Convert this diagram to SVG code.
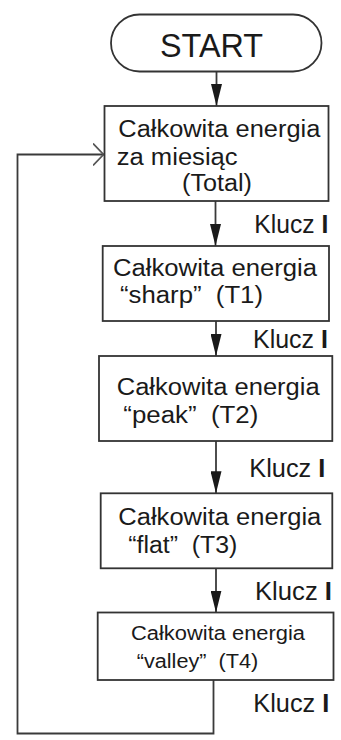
<svg xmlns="http://www.w3.org/2000/svg" width="341" height="740" viewBox="0 0 341 740">
<style>
.box{fill:#fff;stroke:#333;stroke-width:1.8}
.t{font-family:"Liberation Sans",Arial,sans-serif;font-size:23px;fill:#1a1a1a}
.ts{font-family:"Liberation Sans",Arial,sans-serif;font-size:20px;fill:#1a1a1a}
.k{font-family:"Liberation Sans",Arial,sans-serif;font-size:25px;fill:#1a1a1a}
.b{font-weight:bold}
.c{fill:none;stroke:#3a3a3a;stroke-width:1.8}
</style>
<defs>
<marker id="ah" markerUnits="userSpaceOnUse" viewBox="0 0 22 11" refX="22" refY="5.5" markerWidth="22" markerHeight="11" orient="auto">
<path d="M0,0 L22,5.5 L0,11 Z" fill="#1a1a1a"/>
</marker>
<marker id="oh" markerUnits="userSpaceOnUse" viewBox="0 0 12 24" refX="11" refY="12" markerWidth="12" markerHeight="24" orient="auto">
<path d="M0.5,1 L11,12 L0.5,23" fill="none" stroke="#555" stroke-width="1.8"/>
</marker>
</defs>
<g id="connectors">
<path class="c" d="M216.5,71.7 V106" marker-end="url(#ah)"/>
<path class="c" d="M215.5,201 V246" marker-end="url(#ah)"/>
<path class="c" d="M216,321 V356" marker-end="url(#ah)"/>
<path class="c" d="M216,441 V493.3" marker-end="url(#ah)"/>
<path class="c" d="M216,568.3 V612.5" marker-end="url(#ah)"/>
<path class="c" d="M213.5,680 V733.5 H17.5 V154.5 H103.5" marker-end="url(#oh)"/>
<text class="k" x="254.3" y="233.3" textLength="74" lengthAdjust="spacingAndGlyphs">Klucz <tspan class="b">I</tspan></text>
<text class="k" x="253" y="348.3" textLength="75" lengthAdjust="spacingAndGlyphs">Klucz <tspan class="b">I</tspan></text>
<text class="k" x="249.3" y="476.7" textLength="76" lengthAdjust="spacingAndGlyphs">Klucz <tspan class="b">I</tspan></text>
<text class="k" x="255" y="600" textLength="77" lengthAdjust="spacingAndGlyphs">Klucz <tspan class="b">I</tspan></text>
<text class="k" x="253.3" y="711.7" textLength="76" lengthAdjust="spacingAndGlyphs">Klucz <tspan class="b">I</tspan></text>
</g>
<g id="start">
<rect class="box" x="111" y="14.5" width="210.5" height="57" rx="28.5"/>
<text x="160" y="56.7" font-family="'Liberation Sans',Arial,sans-serif" font-size="32.6" fill="#1a1a1a" textLength="103" lengthAdjust="spacingAndGlyphs">START</text>
</g>
<g id="total">
<rect class="box" x="104.5" y="106" width="224" height="95"/>
<text class="t" x="118.3" y="136.7" textLength="202" lengthAdjust="spacingAndGlyphs">Całkowita energia</text>
<text class="t" x="116.7" y="165" textLength="121" lengthAdjust="spacingAndGlyphs">za miesiąc</text>
<text class="t" x="182" y="190.5" textLength="70" lengthAdjust="spacingAndGlyphs">(Total)</text>
</g>
<g id="t1">
<rect class="box" x="102.7" y="246" width="226.3" height="75"/>
<text class="t" x="113" y="276" textLength="204" lengthAdjust="spacingAndGlyphs">Całkowita energia</text>
<text class="t" x="120" y="303" textLength="143" lengthAdjust="spacingAndGlyphs">“sharp”&#160; (T1)</text>
</g>
<g id="t2">
<rect class="box" x="99" y="356" width="233.3" height="85"/>
<text class="t" x="116.7" y="395" textLength="203" lengthAdjust="spacingAndGlyphs">Całkowita energia</text>
<text class="t" x="123.3" y="423" textLength="135" lengthAdjust="spacingAndGlyphs">“peak”&#160; (T2)</text>
</g>
<g id="t3">
<rect class="box" x="100.7" y="493.3" width="231.6" height="75"/>
<text class="t" x="118.3" y="525" textLength="203" lengthAdjust="spacingAndGlyphs">Całkowita energia</text>
<text class="t" x="128.3" y="553" textLength="109" lengthAdjust="spacingAndGlyphs">“flat”&#160; (T3)</text>
</g>
<g id="t4">
<rect class="box" x="97.7" y="612.5" width="235.8" height="67.5"/>
<text class="ts" x="131" y="640" textLength="174" lengthAdjust="spacingAndGlyphs">Całkowita energia</text>
<text class="ts" x="136.7" y="668" textLength="121.6" lengthAdjust="spacingAndGlyphs">“valley”&#160; (T4)</text>
</g>
</svg>
